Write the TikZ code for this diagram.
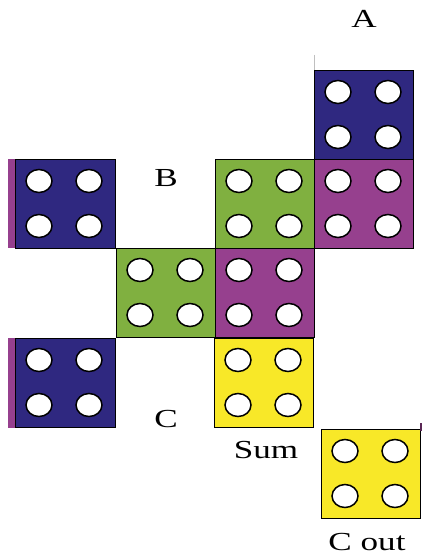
\documentclass[tikz,border=0pt]{standalone}
\usepackage{fontspec}
\setmainfont{Liberation Serif}
\usetikzlibrary{shapes.geometric}
\definecolor{bblue}{RGB}{47,40,128}
\definecolor{bmag}{RGB}{150,64,142}
\definecolor{bgreen}{RGB}{128,176,64}
\definecolor{byel}{RGB}{248,232,40}
\tikzset{
  brick/.style={draw=black, line width=1.4pt, rectangle, minimum width=99pt, minimum height=89pt, inner sep=0pt, anchor=north west},
  stud/.style={draw=black, line width=1.5pt, fill=white, ellipse, minimum width=26pt, minimum height=23pt, inner sep=0pt},
  lbl/.style={font=\fontsize{26}{26}\selectfont, inner sep=0pt, xscale=1.35}
}
\newcommand{\studs}[1]{%
  \node[stud] at ([xshift=24pt,yshift=-22pt]#1.north west) {};
  \node[stud] at ([xshift=74pt,yshift=-22pt]#1.north west) {};
  \node[stud] at ([xshift=24pt,yshift=-67pt]#1.north west) {};
  \node[stud] at ([xshift=74pt,yshift=-67pt]#1.north west) {};
}
\begin{document}
\begin{tikzpicture}[x=1pt,y=-1pt]
\useasboundingbox[fill=white] (0,0) rectangle (423,556);
% thin line above A
\draw[gray!50, line width=0.8pt] (314,55) -- (314,70);
% magenta strips at left
\fill[bmag] (8,159) rectangle (25,248);
\fill[bmag] (8,338) rectangle (25,428);
\node[brick, fill=bblue] (a) at (314,70) {};
\node[brick, fill=bmag] (mr) at (314,159) {};
\node[brick, fill=bgreen] (gt) at (215,159) {};
\node[brick, fill=bgreen] (gm) at (116,248) {};
\node[brick, fill=bmag] (mm) at (215,248) {};
\node[brick, fill=byel] (sum) at (214,338) {};
\node[brick, fill=byel] (cout) at (321,429) {};
\node[brick, fill=bblue, minimum width=100pt] (bl) at (15,159) {};
\node[brick, fill=bblue, minimum width=100pt] (cl) at (15,338) {};
\studs{a}\studs{mr}\studs{gt}\studs{gm}\studs{mm}\studs{sum}\studs{cout}\studs{bl}\studs{cl}
\draw[bmag!60!black, line width=1.4pt] (421,423) -- (421,431);
\node[lbl] (la) at (364,19) {A};
\node[lbl] (lb) at (166,178) {B};
\node[lbl] (lc) at (166,419) {C};
\node[lbl] (ls) at (266,450) {Sum};
\node[lbl] (lco) at (367,542) {C out};
\end{tikzpicture}
\end{document}
